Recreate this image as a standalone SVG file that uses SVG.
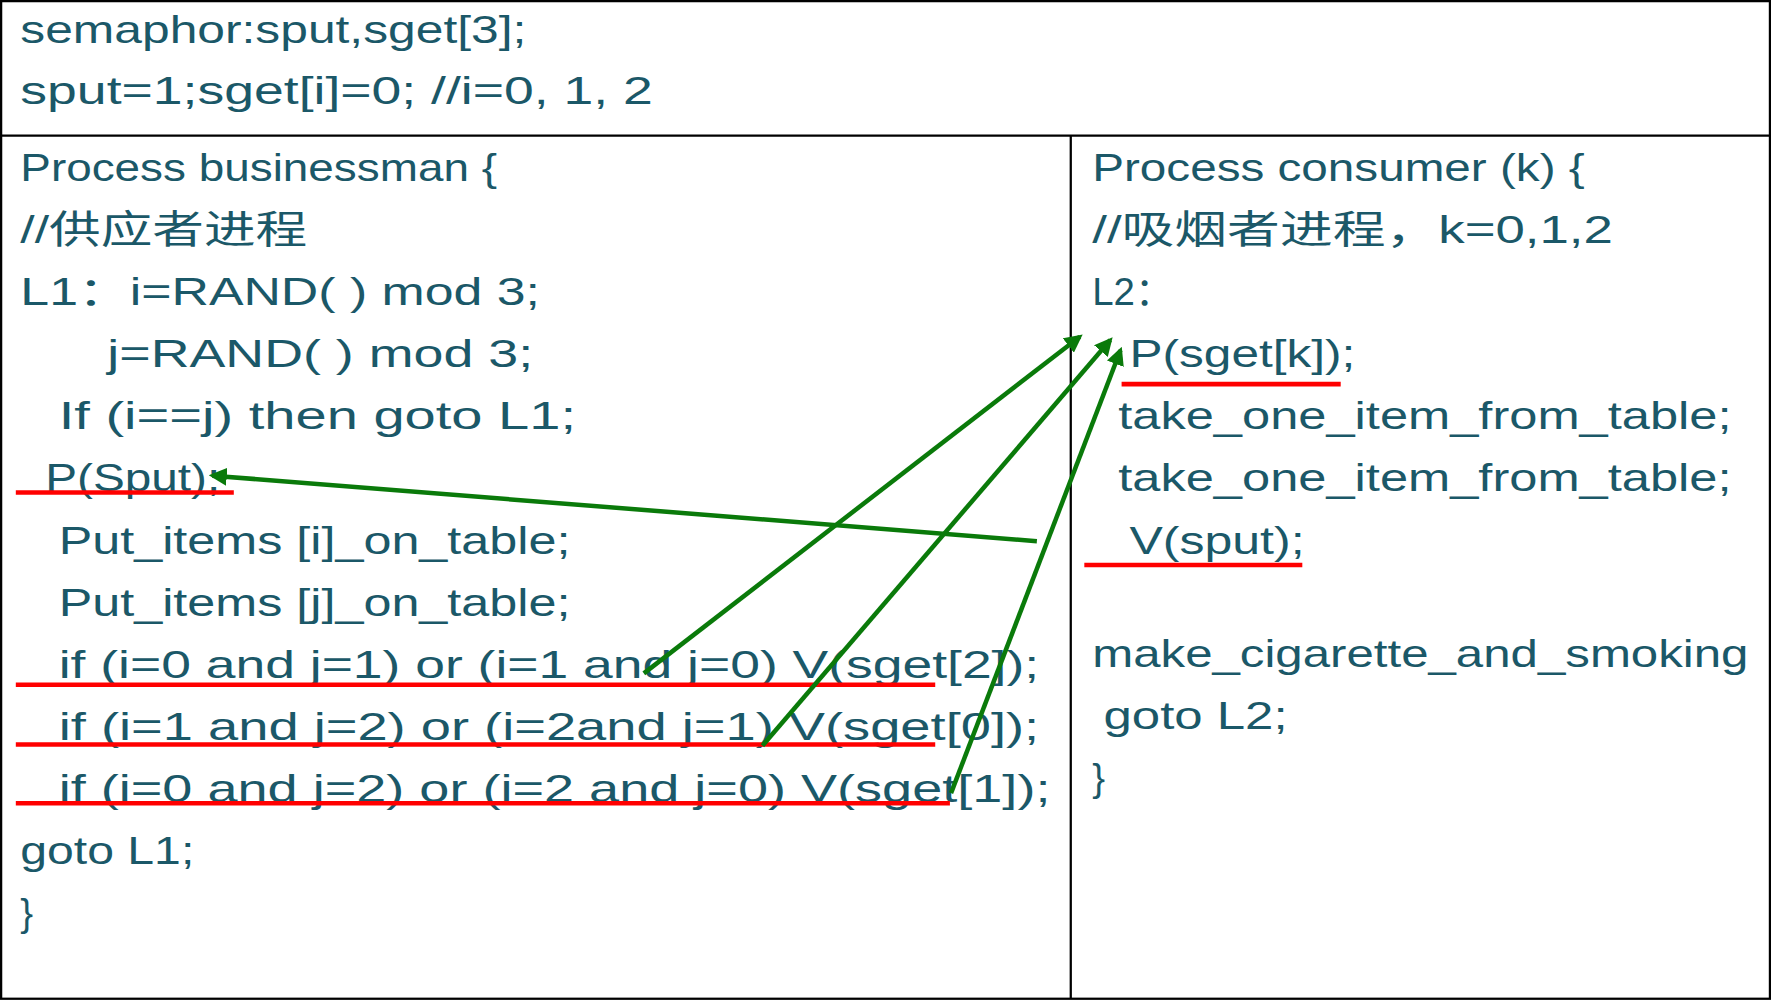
<svg xmlns="http://www.w3.org/2000/svg" width="1771" height="1001" viewBox="0 0 1771 1001">
<defs>
<style>
.t{font-family:"Liberation Sans","Noto Sans CJK SC",sans-serif;font-size:34px;fill:#1b5868}
.b{stroke:#000;stroke-width:2;fill:none}
.r{stroke:#ff0000;stroke-width:4}
.g{stroke:#0a7a0a;stroke-width:4;fill:none;marker-end:url(#ah)}
</style>
<marker id="ah" viewBox="0 0 10 10" refX="8" refY="5" markerWidth="4" markerHeight="4" orient="auto"><path d="M0,0L10,5L0,10z" fill="#0a7a0a"/></marker>
</defs>
<rect width="1771" height="1001" fill="#fff"/>
<g transform="scale(1.1295,1.1298)">
<g id="frame">
<rect class="b" x="1" y="1" width="1566" height="883"/>
<line class="b" x1="1" y1="120" x2="1567" y2="120"/>
<line class="b" x1="948" y1="120" x2="948" y2="884"/>
</g>
<g id="header">
<text class="t" x="18" y="38" textLength="448" lengthAdjust="spacingAndGlyphs">semaphor:sput,sget[3];</text>
<text class="t" x="18" y="92" textLength="560" lengthAdjust="spacingAndGlyphs">sput=1;sget[i]=0; //i=0, 1, 2</text>
</g>
<g id="businessman">
<text class="t" x="18" y="160" textLength="422" lengthAdjust="spacingAndGlyphs">Process businessman {</text>
<text class="t" x="18" y="215" textLength="254" lengthAdjust="spacingAndGlyphs">//供应者进程</text>
<text class="t" x="18" y="270" textLength="460" lengthAdjust="spacingAndGlyphs">L1：i=RAND( ) mod 3;</text>
<text class="t" x="95" y="325" textLength="377" lengthAdjust="spacingAndGlyphs">j=RAND( ) mod 3;</text>
<text class="t" x="52" y="380" textLength="458" lengthAdjust="spacingAndGlyphs">If  (i==j)  then goto L1;</text>
<text class="t" x="40" y="435" textLength="155" lengthAdjust="spacingAndGlyphs">P(Sput);</text>
<text class="t" x="52" y="490" textLength="453" lengthAdjust="spacingAndGlyphs">Put_items [i]_on_table;</text>
<text class="t" x="52" y="545" textLength="453" lengthAdjust="spacingAndGlyphs">Put_items [j]_on_table;</text>
<text class="t" x="52" y="600" textLength="868" lengthAdjust="spacingAndGlyphs">if (i=0 and j=1) or (i=1 and j=0) V(sget[2]);</text>
<text class="t" x="52" y="655" textLength="868" lengthAdjust="spacingAndGlyphs">if (i=1 and j=2) or (i=2and j=1) V(sget[0]);</text>
<text class="t" x="52" y="710" textLength="878" lengthAdjust="spacingAndGlyphs">if (i=0 and j=2) or (i=2 and j=0) V(sget[1]);</text>
<text class="t" x="18" y="765" textLength="154" lengthAdjust="spacingAndGlyphs">goto L1;</text>
<text class="t" x="18" y="820">}</text>
</g>
<g id="consumer">
<text class="t" x="967" y="160" textLength="436" lengthAdjust="spacingAndGlyphs">Process consumer (k) {</text>
<text class="t" x="967" y="215" textLength="461" lengthAdjust="spacingAndGlyphs">//吸烟者进程，k=0,1,2</text>
<text class="t" x="967" y="270">L2：</text>
<text class="t" x="1000" y="325" textLength="200" lengthAdjust="spacingAndGlyphs">P(sget[k]);</text>
<text class="t" x="990" y="380" textLength="543" lengthAdjust="spacingAndGlyphs">take_one_item_from_table;</text>
<text class="t" x="990" y="435" textLength="543" lengthAdjust="spacingAndGlyphs">take_one_item_from_table;</text>
<text class="t" x="1000" y="490" textLength="155" lengthAdjust="spacingAndGlyphs">V(sput);</text>
<text class="t" x="967" y="590" textLength="581" lengthAdjust="spacingAndGlyphs">make_cigarette_and_smoking</text>
<text class="t" x="977" y="645" textLength="163" lengthAdjust="spacingAndGlyphs">goto L2;</text>
<text class="t" x="967" y="700">}</text>
</g>
<g id="underlines">
<line class="r" x1="14" y1="436" x2="207" y2="436"/>
<line class="r" x1="14" y1="606" x2="828" y2="606"/>
<line class="r" x1="14" y1="659" x2="828" y2="659"/>
<line class="r" x1="14" y1="711" x2="841" y2="711"/>
<line class="r" x1="993" y1="340" x2="1187" y2="340"/>
<line class="r" x1="960" y1="500" x2="1153" y2="500"/>
</g>
<g id="connectors">
<line class="g" x1="918" y1="479" x2="188" y2="421"/>
<line class="g" x1="570" y1="596" x2="956" y2="298"/>
<line class="g" x1="675" y1="660" x2="983" y2="301"/>
<line class="g" x1="842" y1="702" x2="992" y2="310"/>
</g>
</g>
</svg>
